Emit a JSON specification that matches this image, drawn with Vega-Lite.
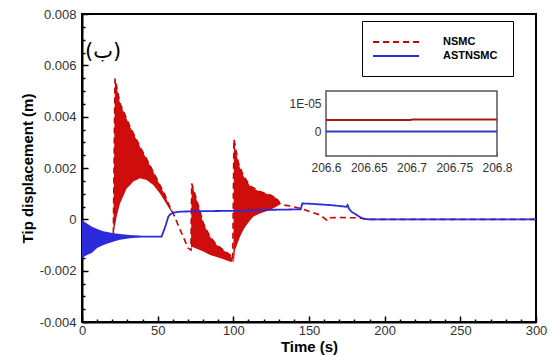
{
  "$schema": "https://vega.github.io/schema/vega-lite/v6.json",
  "width": 454,
  "height": 308,
  "autosize": {"type": "none"},
  "padding": {"left": 82, "top": 14, "right": 14, "bottom": 34},
  "config": {"view": {"stroke": "black", "strokeWidth": 2}, "font": "Liberation Sans", "axis": {"labelOverlap": false, "labelFlush": false, "labelBound": false, "grid": false}},
  "datasets": {
    "redBands": [
      {"g": "r1", "t": 20.7, "hi": -0.00055, "lo": -0.00055},
      {"g": "r1", "t": 21.8, "hi": 0.00549, "lo": -0.00025},
      {"g": "r1", "t": 22.9, "hi": 0.00517, "lo": 0.0001},
      {"g": "r1", "t": 25.1, "hi": 0.00452, "lo": 0.00062},
      {"g": "r1", "t": 29.5, "hi": 0.00391, "lo": 0.0012},
      {"g": "r1", "t": 31.7, "hi": 0.00361, "lo": 0.00133},
      {"g": "r1", "t": 33.9, "hi": 0.00335, "lo": 0.00147},
      {"g": "r1", "t": 38.3, "hi": 0.00283, "lo": 0.0016},
      {"g": "r1", "t": 42.7, "hi": 0.00235, "lo": 0.00153},
      {"g": "r1", "t": 47.1, "hi": 0.00185, "lo": 0.00134},
      {"g": "r1", "t": 51.5, "hi": 0.00133, "lo": 0.00101},
      {"g": "r1", "t": 54.8, "hi": 0.00095, "lo": 0.00069},
      {"g": "r1", "t": 57.0, "hi": 0.00062, "lo": 0.00048},
      {"g": "r1", "t": 59.0, "hi": 0.00038, "lo": 0.0003},
      {"g": "r1", "t": 60.3, "hi": 0.00023, "lo": 0.0002},
      {"g": "r2", "t": 72.0, "hi": -0.0012, "lo": -0.0012},
      {"g": "r2", "t": 72.5, "hi": 0.0014, "lo": -0.00107},
      {"g": "r2", "t": 75.8, "hi": 0.00075, "lo": -0.00115},
      {"g": "r2", "t": 80.2, "hi": -0.00016, "lo": -0.00125},
      {"g": "r2", "t": 84.6, "hi": -0.00068, "lo": -0.00139},
      {"g": "r2", "t": 89.0, "hi": -0.001, "lo": -0.00147},
      {"g": "r2", "t": 93.5, "hi": -0.0012, "lo": -0.00156},
      {"g": "r2", "t": 97.9, "hi": -0.00139, "lo": -0.00165},
      {"g": "r2", "t": 99.6, "hi": -0.00155, "lo": -0.00165},
      {"g": "r3", "t": 100.0, "hi": -0.00165, "lo": -0.00165},
      {"g": "r3", "t": 100.4, "hi": 0.00312, "lo": -0.00165},
      {"g": "r3", "t": 101.1, "hi": 0.0028, "lo": -0.0012},
      {"g": "r3", "t": 103.3, "hi": 0.0022, "lo": -0.00085},
      {"g": "r3", "t": 104.4, "hi": 0.002, "lo": -0.00068},
      {"g": "r3", "t": 106.6, "hi": 0.0017, "lo": -0.00042},
      {"g": "r3", "t": 108.7, "hi": 0.0015, "lo": -0.00022},
      {"g": "r3", "t": 111.0, "hi": 0.0013, "lo": -0.00005},
      {"g": "r3", "t": 113.1, "hi": 0.0012, "lo": 0.0001},
      {"g": "r3", "t": 117.6, "hi": 0.00108, "lo": 0.00023},
      {"g": "r3", "t": 124.3, "hi": 0.00095, "lo": 0.00036},
      {"g": "r3", "t": 128.6, "hi": 0.00082, "lo": 0.0005},
      {"g": "r3", "t": 130.3, "hi": 0.00069, "lo": 0.00056},
      {"g": "r3", "t": 131.0, "hi": 0.0006, "lo": 0.0006}
    ],
    "blueBand": [
      {"t": 0, "hi": -0.00003, "lo": -0.0015},
      {"t": 3, "hi": -0.00015, "lo": -0.0014},
      {"t": 6.6, "hi": -0.00029, "lo": -0.0013},
      {"t": 10, "hi": -0.00038, "lo": -0.00112},
      {"t": 14.1, "hi": -0.00046, "lo": -0.001},
      {"t": 20, "hi": -0.00053, "lo": -0.00088},
      {"t": 25, "hi": -0.00057, "lo": -0.0008},
      {"t": 31.7, "hi": -0.00061, "lo": -0.00074},
      {"t": 38, "hi": -0.00064, "lo": -0.0007},
      {"t": 42, "hi": -0.00066, "lo": -0.00068}
    ],
    "lines": [
      {"series": "NSMC", "t": 20.7, "v": -0.00055},
      {"series": "NSMC", "t": 21.8, "v": 0.00549},
      {"series": "NSMC", "t": 25.1, "v": 0.00452},
      {"series": "NSMC", "t": 31.7, "v": 0.00361},
      {"series": "NSMC", "t": 38.3, "v": 0.00283},
      {"series": "NSMC", "t": 42.7, "v": 0.00235},
      {"series": "NSMC", "t": 47.1, "v": 0.00185},
      {"series": "NSMC", "t": 51.5, "v": 0.00133},
      {"series": "NSMC", "t": 54.8, "v": 0.00095},
      {"series": "NSMC", "t": 57.0, "v": 0.00062},
      {"series": "NSMC", "t": 60.3, "v": 0.00023},
      {"series": "NSMC", "t": 64.8, "v": -0.0004},
      {"series": "NSMC", "t": 70.2, "v": -0.00113},
      {"series": "NSMC", "t": 72.0, "v": -0.0012},
      {"series": "NSMC", "t": 72.5, "v": 0.0014},
      {"series": "NSMC", "t": 75.8, "v": 0.00075},
      {"series": "NSMC", "t": 80.2, "v": -0.00016},
      {"series": "NSMC", "t": 84.6, "v": -0.00068},
      {"series": "NSMC", "t": 89.0, "v": -0.001},
      {"series": "NSMC", "t": 93.5, "v": -0.0012},
      {"series": "NSMC", "t": 97.9, "v": -0.00139},
      {"series": "NSMC", "t": 99.6, "v": -0.00155},
      {"series": "NSMC", "t": 100.4, "v": 0.00312},
      {"series": "NSMC", "t": 103.3, "v": 0.0022},
      {"series": "NSMC", "t": 106.6, "v": 0.0017},
      {"series": "NSMC", "t": 111.0, "v": 0.0013},
      {"series": "NSMC", "t": 117.6, "v": 0.00108},
      {"series": "NSMC", "t": 124.3, "v": 0.00095},
      {"series": "NSMC", "t": 128.6, "v": 0.00082},
      {"series": "NSMC", "t": 131.0, "v": 0.0006},
      {"series": "NSMC", "t": 133.0, "v": 0.00056},
      {"series": "NSMC", "t": 137.4, "v": 0.00052},
      {"series": "NSMC", "t": 144.0, "v": 0.00043},
      {"series": "NSMC", "t": 150.7, "v": 0.0003},
      {"series": "NSMC", "t": 157.3, "v": 0.00017},
      {"series": "NSMC", "t": 161.7, "v": -0.00003},
      {"series": "NSMC", "t": 162.5, "v": 0.00006},
      {"series": "NSMC", "t": 170.0, "v": 0.00007},
      {"series": "NSMC", "t": 181.0, "v": 0.00006},
      {"series": "NSMC", "t": 186.0, "v": 0.00003},
      {"series": "NSMC", "t": 190.0, "v": 0},
      {"series": "NSMC", "t": 300.0, "v": 0},
      {"series": "ASTNSMC", "t": 0, "v": -0.00075},
      {"series": "ASTNSMC", "t": 10, "v": -0.00075},
      {"series": "ASTNSMC", "t": 20, "v": -0.0007},
      {"series": "ASTNSMC", "t": 30, "v": -0.00068},
      {"series": "ASTNSMC", "t": 40, "v": -0.00067},
      {"series": "ASTNSMC", "t": 52.6, "v": -0.00067},
      {"series": "ASTNSMC", "t": 54.0, "v": -0.00045},
      {"series": "ASTNSMC", "t": 55.5, "v": -0.0002},
      {"series": "ASTNSMC", "t": 57.0, "v": 0.0001},
      {"series": "ASTNSMC", "t": 58.5, "v": 0.0002},
      {"series": "ASTNSMC", "t": 60.3, "v": 0.00026},
      {"series": "ASTNSMC", "t": 64.8, "v": 0.0003},
      {"series": "ASTNSMC", "t": 80, "v": 0.00032},
      {"series": "ASTNSMC", "t": 100, "v": 0.00033},
      {"series": "ASTNSMC", "t": 124, "v": 0.00037},
      {"series": "ASTNSMC", "t": 144.5, "v": 0.00039},
      {"series": "ASTNSMC", "t": 145.6, "v": 0.00062},
      {"series": "ASTNSMC", "t": 152.8, "v": 0.0006},
      {"series": "ASTNSMC", "t": 165, "v": 0.00055},
      {"series": "ASTNSMC", "t": 174.8, "v": 0.00049},
      {"series": "ASTNSMC", "t": 175.5, "v": 0.00056},
      {"series": "ASTNSMC", "t": 176.6, "v": 0.00039},
      {"series": "ASTNSMC", "t": 178.5, "v": 0.00028},
      {"series": "ASTNSMC", "t": 181.5, "v": 0.00017},
      {"series": "ASTNSMC", "t": 184, "v": 0.00008},
      {"series": "ASTNSMC", "t": 186, "v": 0.00002},
      {"series": "ASTNSMC", "t": 190, "v": 0},
      {"series": "ASTNSMC", "t": 300, "v": 0}
    ],
    "label": [{"t": 13.9, "v": 0.00652, "txt": "(ب)"}],
    "box": [{"x1": 206.6, "x2": 206.8, "y1": -0.0000086, "y2": 0.0000143}],
    "insetRed": [
      {"t": 206.6, "v": 0.0000041},
      {"t": 206.699, "v": 0.0000041},
      {"t": 206.701, "v": 0.0000043},
      {"t": 206.8, "v": 0.0000043}
    ],
    "insetBlue": [
      {"t": 206.6, "v": 0},
      {"t": 206.8, "v": 0}
    ]
  },
  "layer": [
    {
      "layer": [
        {
          "data": {"name": "redBands"},
          "mark": {"type": "area", "color": "#cc0000", "opacity": 0.95},
          "encoding": {
            "x": {
              "field": "t", "type": "quantitative",
              "scale": {"domain": [0, 300], "nice": false, "zero": false},
              "axis": {
                "title": "Time (s)",
                "values": [0, 50, 100, 150, 200, 250, 300],
                "format": "d",
                "tickSize": -6,
                "tickColor": "black", "tickWidth": 1.5,
                "domainColor": "black", "domainWidth": 2,
                "labelFontSize": 13, "labelColor": "#333", "labelPadding": 8,
                "titleFontSize": 15, "titleFontWeight": "bold", "titleColor": "black", "titlePadding": 2
              }
            },
            "y": {
              "field": "hi", "type": "quantitative",
              "scale": {"domain": [-0.004, 0.008], "nice": false, "zero": false},
              "axis": {
                "title": "Tip displacement (m)",
                "values": [-0.004, -0.002, 0, 0.002, 0.004, 0.006, 0.008],
                "labelExpr": "abs(datum.value) < 0.0000001 ? '0' : (datum.value < 0 ? '-' : '') + format(abs(datum.value), '.3f')",
                "tickSize": -6,
                "tickColor": "black", "tickWidth": 1.5,
                "domainColor": "black", "domainWidth": 2,
                "labelFontSize": 13, "labelColor": "#333", "labelPadding": 12,
                "titleFontSize": 15, "titleFontWeight": "bold", "titleColor": "black", "titlePadding": 4
              }
            },
            "y2": {"field": "lo"},
            "detail": {"field": "g"}
          }
        },
        {
          "data": {"name": "lines"},
          "transform": [{"filter": "datum.series === 'NSMC'"}],
          "mark": {"type": "line", "strokeWidth": 1.6},
          "encoding": {
            "x": {"field": "t", "type": "quantitative"},
            "y": {"field": "v", "type": "quantitative"},
            "color": {
              "field": "series", "type": "nominal",
              "scale": {"domain": ["NSMC", "ASTNSMC"], "range": ["#cc0000", "#2b2bdc"]},
              "legend": {
                "orient": "none", "legendX": 280, "legendY": 7, "title": null,
                "symbolType": "M-4.6,0H4.6", "symbolSize": 100, "symbolStrokeWidth": 2, "symbolOffset": 13,
                "labelFont": "Liberation Sans", "labelFontWeight": "bold", "labelFontSize": 11, "labelColor": "black",
                "padding": 15, "strokeColor": "black", "fillColor": "white", "labelOffset": 41, "rowPadding": 3
              }
            },
            "strokeDash": {
              "field": "series", "type": "nominal",
              "scale": {"domain": ["NSMC", "ASTNSMC"], "range": [[6, 4], [1, 0]]},
              "legend": {
                "orient": "none", "legendX": 280, "legendY": 7, "title": null,
                "symbolType": "M-4.6,0H4.6", "symbolSize": 100, "symbolStrokeWidth": 2, "symbolOffset": 13,
                "labelFont": "Liberation Sans", "labelFontWeight": "bold", "labelFontSize": 11, "labelColor": "black",
                "padding": 15, "strokeColor": "black", "fillColor": "white", "labelOffset": 41, "rowPadding": 3
              }
            }
          }
        },
        {
          "data": {"name": "blueBand"},
          "mark": {"type": "area", "color": "#2b2bdc"},
          "encoding": {
            "x": {"field": "t", "type": "quantitative"},
            "y": {"field": "hi", "type": "quantitative"},
            "y2": {"field": "lo"}
          }
        },
        {
          "data": {"name": "lines"},
          "transform": [{"filter": "datum.series === 'ASTNSMC'"}],
          "mark": {"type": "line", "strokeWidth": 1.8},
          "encoding": {
            "x": {"field": "t", "type": "quantitative"},
            "y": {"field": "v", "type": "quantitative"},
            "color": {"field": "series", "type": "nominal"},
            "strokeDash": {"field": "series", "type": "nominal"}
          }
        }
      ]
    },
    {
      "data": {"name": "label"},
      "mark": {"type": "text", "font": "DejaVu Sans", "fontSize": 21, "align": "center", "baseline": "middle", "color": "black"},
      "encoding": {
        "x": {
          "field": "t", "type": "quantitative",
          "scale": {"domain": [0, 300], "nice": false, "zero": false},
          "axis": {
            "orient": "bottom", "title": null, "labels": false, "domain": false,
            "values": [10,20,30,40,60,70,80,90,110,120,130,140,160,170,180,190,210,220,230,240,260,270,280,290],
            "tickSize": -3, "tickColor": "black", "tickWidth": 1.5
          }
        },
        "y": {
          "field": "v", "type": "quantitative",
          "scale": {"domain": [-0.004, 0.008], "nice": false, "zero": false},
          "axis": {
            "orient": "left", "title": null, "labels": false, "domain": false,
            "values": [-0.0035,-0.003,-0.0025,-0.0015,-0.001,-0.0005,0.0005,0.001,0.0015,0.0025,0.003,0.0035,0.0045,0.005,0.0055,0.0065,0.007,0.0075],
            "tickSize": -3, "tickColor": "black", "tickWidth": 1.5
          }
        },
        "text": {"field": "txt"}
      }
    },
    {
      "layer": [
        {
          "data": {"name": "box"},
          "mark": {"type": "rect", "fill": "white", "stroke": "#555", "strokeWidth": 1.5},
          "encoding": {
            "x": {
              "field": "x1", "type": "quantitative",
              "scale": {"domain": [206.6, 206.8], "range": [244, 415], "nice": false, "zero": false},
              "axis": {
                "orient": "bottom", "offset": -166, "title": null, "domain": false,
                "values": [206.6, 206.65, 206.7, 206.75, 206.8],
                "labelExpr": "format(datum.value, '.2~f')",
                "tickSize": -3, "tickColor": "#555", "labelFontSize": 12, "labelColor": "#333", "labelPadding": 9
              }
            },
            "x2": {"field": "x2"},
            "y": {
              "field": "y1", "type": "quantitative",
              "scale": {"domain": [-0.0000086, 0.0000143], "range": [142, 77], "nice": false, "zero": false},
              "axis": {
                "orient": "left", "offset": -244, "title": null, "domain": false,
                "values": [0, 0.00001],
                "labelExpr": "datum.value === 0 ? '0' : '1E-05'",
                "tickSize": -3, "tickColor": "#555", "labelFontSize": 12, "labelColor": "#333", "labelPadding": 8
              }
            },
            "y2": {"field": "y2"}
          }
        },
        {
          "data": {"name": "insetRed"},
          "mark": {"type": "line", "color": "#a81818", "strokeWidth": 2},
          "encoding": {
            "x": {"field": "t", "type": "quantitative"},
            "y": {"field": "v", "type": "quantitative"}
          }
        },
        {
          "data": {"name": "insetBlue"},
          "mark": {"type": "line", "color": "#3838c8", "strokeWidth": 2},
          "encoding": {
            "x": {"field": "t", "type": "quantitative"},
            "y": {"field": "v", "type": "quantitative"}
          }
        }
      ]
    }
  ],
  "resolve": {
    "scale": {"x": "independent", "y": "independent"},
    "axis": {"x": "independent", "y": "independent"}
  }
}
